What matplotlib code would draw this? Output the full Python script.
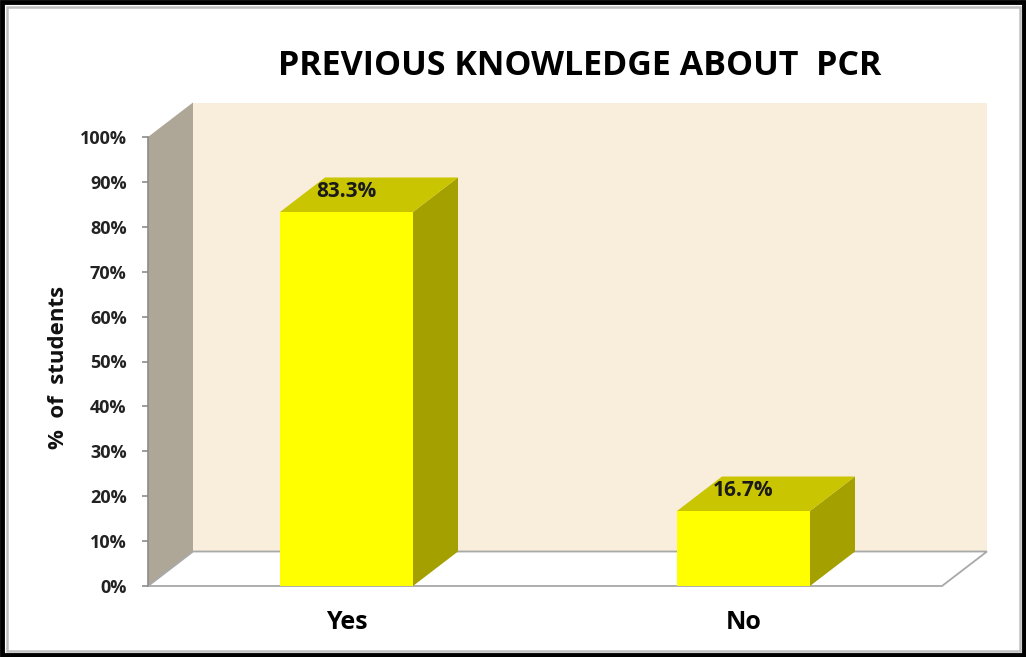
import matplotlib
matplotlib.use("Agg")
import matplotlib.pyplot as plt
from matplotlib.patches import Polygon, Rectangle

categories = ["Yes", "No"]
values = [83.3, 16.7]
value_labels = ["83.3%", "16.7%"]
y_ticks = [0, 10, 20, 30, 40, 50, 60, 70, 80, 90, 100]
y_tick_labels = [f"{t}%" for t in y_ticks]
title = "PREVIOUS KNOWLEDGE ABOUT  PCR"
y_label = "%  of  students"

FONT = ["Open Sans", "DejaVu Sans"]
plt.rcParams["font.family"] = FONT

W, H = 1026, 657
fig = plt.figure(figsize=(W / 100, H / 100), dpi=100)
fig.patch.set_facecolor("white")

# outer frame: thick black + thin grey inner line
frame = fig.add_axes([0, 0, 1, 1], zorder=-5)
frame.set_xlim(0, W)
frame.set_ylim(H, 0)
frame.axis("off")
frame.add_patch(Rectangle((2, 2), W - 4, H - 4, fill=False, ec="black", lw=3.5))
frame.add_patch(Rectangle((6.5, 6.5), W - 13, H - 13, fill=False, ec="#c0c0c0", lw=1.8))

# front plane of the 3d plot
left_px, right_px = 148, 942
bottom_px, top_px = 586, 137
ax = fig.add_axes([left_px / W, 1 - bottom_px / H,
                   (right_px - left_px) / W, (bottom_px - top_px) / H])
ax.set_xlim(-0.5, 1.5)
ax.set_ylim(0, 100)
ax.patch.set_alpha(0)

x0, x1 = ax.get_xlim()
dx = 45 / ((right_px - left_px) / (x1 - x0))   # depth offset in x units
dy = 34.5 / ((bottom_px - top_px) / 100.0)     # depth offset in % units

wall = "#f9eedb"
side_wall = "#aea696"
ax.add_patch(Rectangle((x0 + dx, dy), x1 - x0, 100, fc=wall, ec="none", clip_on=False, zorder=0))
ax.add_patch(Polygon([(x0, 0), (x0, 100), (x0 + dx, 100 + dy), (x0 + dx, dy)],
                     closed=True, fc=side_wall, ec="none", clip_on=False, zorder=0.5))
ax.add_patch(Polygon([(x0, 0), (x1, 0), (x1 + dx, dy), (x0 + dx, dy)],
                     closed=True, fc="white", ec="#a8a8a8", lw=1.3, clip_on=False, zorder=1))

bar_w = 0.335
front_c = "#ffff00"
top_c = "#c9c500"
side_c = "#a3a000"
for i, (v, lab) in enumerate(zip(values, value_labels)):
    bl = i - bar_w / 2
    br = i + bar_w / 2
    ax.add_patch(Polygon([(br, 0), (br + dx, dy), (br + dx, v + dy), (br, v)],
                         closed=True, fc=side_c, ec="none", clip_on=False, zorder=2))
    ax.add_patch(Polygon([(bl, v), (br, v), (br + dx, v + dy), (bl + dx, v + dy)],
                         closed=True, fc=top_c, ec="none", clip_on=False, zorder=2))
    ax.bar(i, v, width=bar_w, color=front_c, edgecolor="none", zorder=3, clip_on=False)
    ax.text(i, v + 0.6 * dy, lab, ha="center", va="center", fontsize=15,
            fontweight="bold", color="#1a1a1a", zorder=4)

ax.set_xticks(range(len(categories)))
ax.set_xticklabels(categories, fontsize=18, fontweight="bold")
ax.tick_params(axis="x", length=0, pad=17)

ax.set_yticks(y_ticks)
ax.set_yticklabels(y_tick_labels, fontsize=13, fontweight="bold", color="#222222")
ax.tick_params(axis="y", length=4.3, width=1.2, color="#8c8c8c", pad=11)

for s in ["top", "right", "bottom"]:
    ax.spines[s].set_visible(False)
ax.spines["left"].set_color("#8c8c8c")
ax.spines["left"].set_linewidth(1.2)
ax.spines["left"].set_zorder(1.5)

fig.text(59 / W, 1 - 367 / H, y_label, ha="center", va="center", rotation=90,
         fontsize=16, fontweight="bold", color="#111111")

fig.text(580 / W, 1 - 66 / H, title, ha="center", va="center",
         fontsize=24.5, fontweight="bold", color="black")

fig.savefig("out.png", dpi=100)
